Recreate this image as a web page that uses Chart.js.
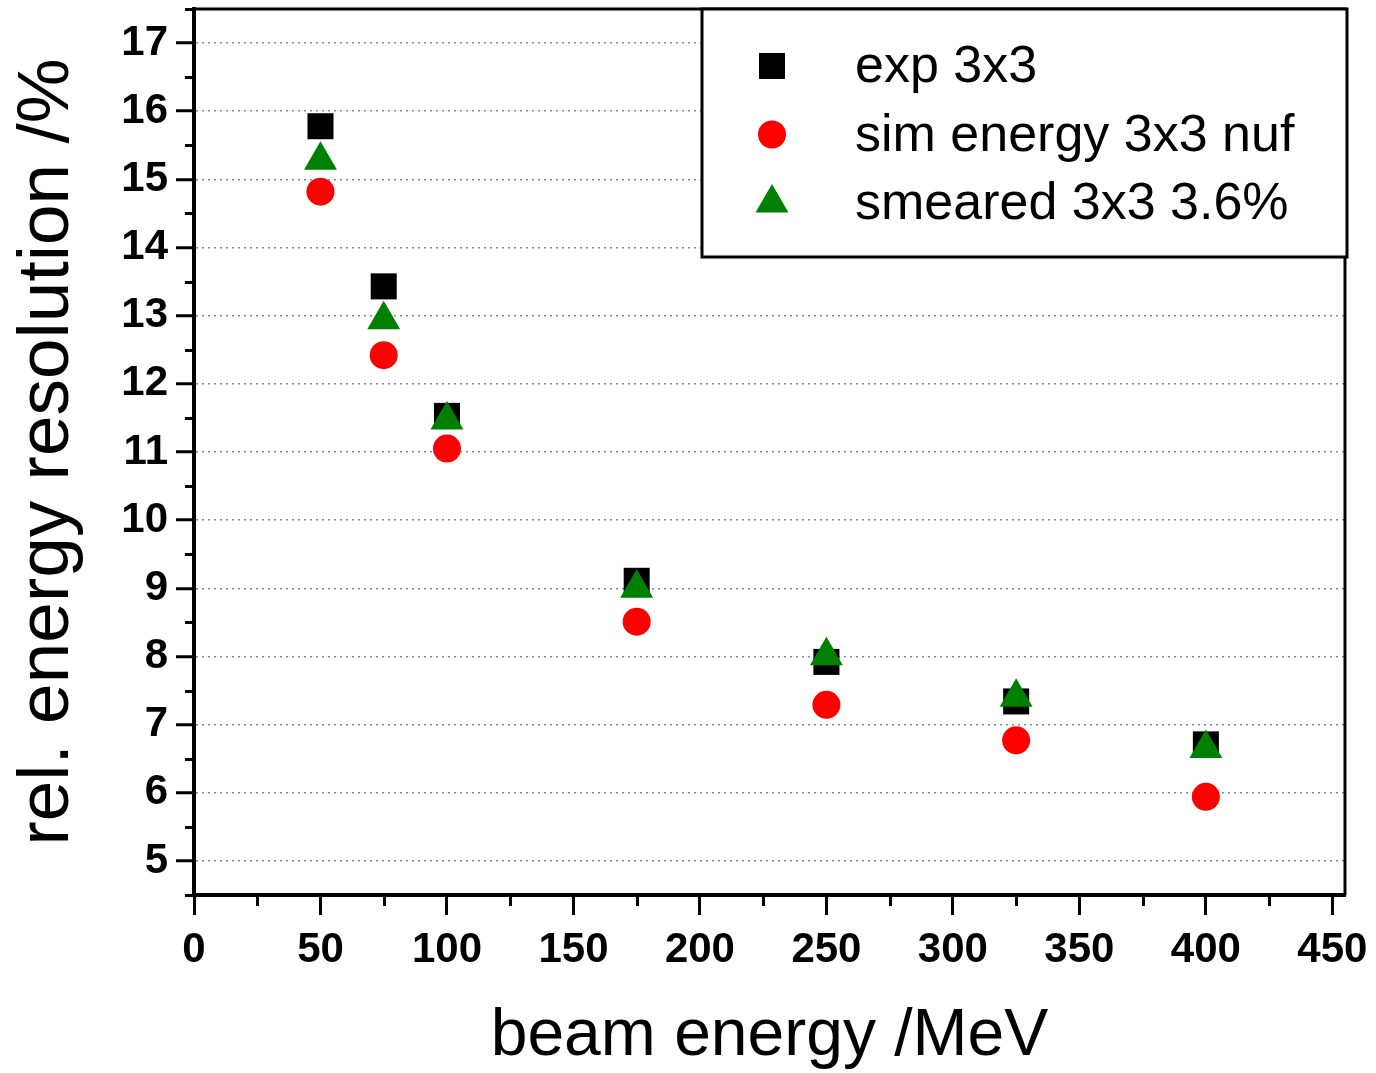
<!DOCTYPE html>
<html>
<head>
<meta charset="utf-8">
<script src="https://cdn.jsdelivr.net/npm/chart.js@4.4.1/dist/chart.umd.min.js"></script>
<style>
  html, body { margin: 0; padding: 0; background: #fff; }
  #c { display: block; }
</style>
</head>
<body>
<canvas id="c" width="1376" height="1073"></canvas>
<script>
// --- DATA ---
const beamEnergy = [50, 75, 100, 175, 250, 325, 400];
const expRes = [15.78, 13.43, 11.53, 9.11, 7.92, 7.34, 6.71];
const simRes = [14.82, 12.42, 11.05, 8.51, 7.29, 6.77, 5.94];
const smearedRes = [15.28, 12.94, 11.47, 9.00, 8.01, 7.40, 6.65];
const seriesLabels = ['exp 3x3', 'sim energy 3x3 nuf', 'smeared 3x3 3.6%'];

const xTicks = [0, 50, 100, 150, 200, 250, 300, 350, 400, 450];
const xMinorTicks = [25, 75, 125, 175, 225, 275, 325, 375, 425];
const yTicks = [5, 6, 7, 8, 9, 10, 11, 12, 13, 14, 15, 16, 17];
const yMinorTicks = [4.5, 5.5, 6.5, 7.5, 8.5, 9.5, 10.5, 11.5, 12.5, 13.5, 14.5, 15.5, 16.5, 17.5];

const FONT = '"Liberation Sans", Arial, sans-serif';
const toPoints = (ys) => beamEnergy.map((x, i) => ({ x, y: ys[i] }));

// frame (top/right), minor ticks and the boxed legend
const framePlugin = {
    id: 'frame',
    afterDatasetsDraw(chart) {
        const { ctx, chartArea: a, scales: { x, y } } = chart;
        ctx.save();
        ctx.strokeStyle = '#000';

        // minor ticks
        ctx.lineWidth = 3;
        yMinorTicks.forEach(v => {
            const py = Math.round(y.getPixelForValue(v)) + 0.5;
            ctx.beginPath(); ctx.moveTo(a.left - 9, py); ctx.lineTo(a.left, py); ctx.stroke();
        });
        xMinorTicks.forEach(v => {
            const px = Math.round(x.getPixelForValue(v)) + 0.5;
            ctx.beginPath(); ctx.moveTo(px, a.bottom); ctx.lineTo(px, a.bottom + 11); ctx.stroke();
        });

        // top and right frame
        ctx.lineWidth = 3;
        ctx.beginPath();
        ctx.moveTo(a.left, a.top);
        ctx.lineTo(a.right, a.top);
        ctx.lineTo(a.right, a.bottom);
        ctx.stroke();

        // legend box
        const bx = a.right - 643, by = a.top, bw = 645, bh = 248;
        ctx.fillStyle = '#fff';
        ctx.fillRect(bx, by, bw, bh);
        ctx.lineWidth = 3;
        ctx.strokeRect(bx, by, bw, bh);

        ctx.font = '52px ' + FONT;
        ctx.textBaseline = 'middle';
        ctx.textAlign = 'left';
        chart.data.datasets.forEach((ds, i) => {
            const cy = by + 59 + i * 68.5;
            ctx.fillStyle = ds.backgroundColor;
            Chart.helpers.drawPoint(ctx, {
                pointStyle: ds.pointStyle, radius: ds.pointRadius, rotation: 0, borderWidth: 0
            }, bx + 70, cy - 2);
            ctx.fillStyle = '#000';
            ctx.fillText(ds.label, bx + 153, cy);
        });
        ctx.restore();
    }
};

new Chart(document.getElementById('c'), {
    type: 'scatter',
    data: {
        datasets: [
            { label: seriesLabels[0], data: toPoints(expRes), pointStyle: 'rect', pointRadius: 18.4,
              backgroundColor: '#000000', borderWidth: 0, order: 3 },
            { label: seriesLabels[1], data: toPoints(simRes), pointStyle: 'circle', pointRadius: 14,
              backgroundColor: '#ff0000', borderWidth: 0, order: 2 },
            { label: seriesLabels[2], data: toPoints(smearedRes), pointStyle: 'triangle', pointRadius: 19,
              backgroundColor: '#008000', borderWidth: 0, order: 1 }
        ]
    },
    options: {
        responsive: false,
        animation: false,
        events: [],
        layout: { autoPadding: false, padding: { left: 0, top: 9, right: 31, bottom: 0 } },
        plugins: { legend: { display: false }, tooltip: { enabled: false } },
        scales: {
            x: {
                type: 'linear', min: 0, max: 455,
                afterBuildTicks: (s) => { s.ticks = xTicks.map(v => ({ value: v })); },
                afterFit: (s) => { s.height = 178; s.paddingLeft = 0; s.paddingRight = 0; },
                ticks: { font: { family: FONT, size: 42, weight: 'bold' }, color: '#000', padding: 10, maxRotation: 0, autoSkip: false },
                grid: { drawOnChartArea: false, tickLength: 20, tickColor: '#000', tickWidth: 3 },
                border: { color: '#000', width: 4 },
                title: { display: true, text: 'beam energy /MeV', color: '#000',
                         font: { family: FONT, size: 66, lineHeight: 1.1 }, padding: 0 }
            },
            y: {
                type: 'linear', min: 4.5, max: 17.5,
                afterBuildTicks: (s) => { s.ticks = yTicks.map(v => ({ value: v })); },
                afterFit: (s) => { s.width = 194; s.paddingTop = 0; s.paddingBottom = 0; },
                ticks: { font: { family: FONT, size: 42, weight: 'bold' }, color: '#000', padding: 8, autoSkip: false },
                grid: { color: '#8a8a8a', lineWidth: 1.5, tickLength: 18, tickColor: '#000', tickWidth: 3 },
                border: { color: '#000', width: 4, dash: [2, 4] },
                title: { display: true, text: 'rel. energy resolution /%', color: '#000',
                         font: { family: FONT, size: 73, lineHeight: 1.2 }, padding: { top: 4, bottom: 0 } }
            }
        }
    },
    plugins: [framePlugin]
});
</script>
</body>
</html>
